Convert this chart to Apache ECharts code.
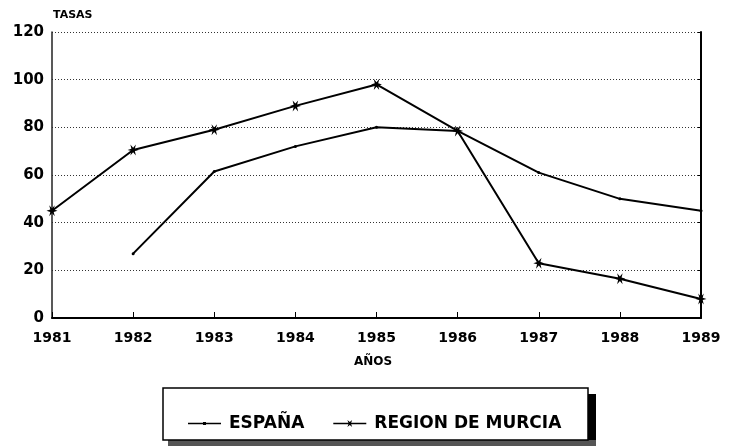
<!DOCTYPE html>
<html>
<head>
<meta charset="utf-8">
<script src="https://cdn.jsdelivr.net/npm/echarts@6/dist/echarts.min.js"></script>
<style>html,body{margin:0;padding:0;background:#fff}#c{width:738px;height:448px}</style>
</head>
<body>
<div id="c"></div>
<script>
const years = ['1981','1982','1983','1984','1985','1986','1987','1988','1989'];
const espana = [null, 27, 61.5, 72, 80, 78.5, 61, 50, 45];
const murcia = [45, 70.5, 79, 89, 98, 78.5, 23, 16.5, 8];
const yTicks = [0, 20, 40, 60, 80, 100, 120];

const FONT = 'DejaVu Sans';
const star = 'path://M10 5 L6.56 5.9 L7.5 9.33 L5 6.8 L2.5 9.33 L3.44 5.9 L0 5 L3.44 4.1 L2.5 0.67 L5 3.2 L7.5 0.67 L6.56 4.1 Z';
const iconEspana = 'path://M0 4.2 L33 4.2 L33 5.8 L0 5.8 Z M15 3.4 L18 3.4 L18 6.6 L15 6.6 Z';
const iconMurcia = 'path://M0 4.2 L33 4.2 L33 5.8 L0 5.8 Z M21 5 L17.86 5.8 L18.9 8.5 L16.5 6.6 L14.1 8.5 L15.14 5.8 L12 5 L15.14 4.2 L14.1 1.5 L16.5 3.4 L18.9 1.5 L17.86 4.2 Z';

const chart = echarts.init(document.getElementById('c'), null, {renderer: 'canvas'});
chart.setOption({
  animation: false,
  backgroundColor: '#fff',
  grid: {left: 52, right: 37, top: 32, bottom: 130, containLabel: false},
  xAxis: {
    type: 'category',
    data: years,
    boundaryGap: false,
    axisLine: {lineStyle: {color: '#000', width: 2}},
    axisTick: {show: true, inside: true, length: 6, lineStyle: {color: '#000', width: 1}},
    axisLabel: {color: '#000', fontFamily: FONT, fontWeight: 'bold', fontSize: 14, margin: 13},
    splitLine: {show: false}
  },
  yAxis: [{
    type: 'value',
    min: yTicks[0], max: yTicks[yTicks.length - 1], interval: 20,
    axisLine: {show: true, lineStyle: {color: '#222', width: 1.5}},
    axisTick: {show: false},
    axisLabel: {color: '#000', fontFamily: FONT, fontWeight: 'bold', fontSize: 15, margin: 8},
    splitLine: {show: true, lineStyle: {color: '#333', width: 1, type: [1, 2]}}
  }, {
    type: 'value',
    position: 'right',
    min: yTicks[0], max: yTicks[yTicks.length - 1], interval: 20,
    axisLine: {show: true, lineStyle: {color: '#000', width: 2}},
    axisTick: {show: true, inside: true, length: 3, lineStyle: {color: '#000'}},
    axisLabel: {show: false},
    splitLine: {show: false}
  }],
  legend: {
    left: 183, top: 410,
    itemWidth: 33, itemHeight: 10, itemGap: 29,
    symbolKeepAspect: true,
    textStyle: {color: '#000', fontFamily: FONT, fontWeight: 'bold', fontSize: 17, padding: [0, 0, 0, 3]},
    data: [{name: 'ESPAÑA', icon: iconEspana}, {name: 'REGION DE MURCIA', icon: iconMurcia}]
  },
  graphic: [
    {type: 'rect', z: -2, shape: {x: 588, y: 394, width: 8, height: 52}, style: {fill: '#000'}},
    {type: 'rect', z: -2, shape: {x: 168, y: 440, width: 428, height: 6}, style: {fill: '#555'}},
    {type: 'rect', z: -1, shape: {x: 163, y: 388, width: 425, height: 52}, style: {fill: '#fff', stroke: '#000', lineWidth: 1.5}},
    {type: 'text', left: 53, top: 10, style: {text: 'TASAS', fill: '#000', font: 'bold 11px "DejaVu Sans"'}},
    {type: 'text', left: 354, top: 356, style: {text: 'AÑOS', fill: '#000', font: 'bold 12px "DejaVu Sans"'}}
  ],
  series: [{
    name: 'ESPAÑA',
    type: 'line',
    data: espana,
    connectNulls: false,
    symbol: 'circle',
    symbolSize: 3,
    showAllSymbol: true,
    lineStyle: {color: '#000', width: 2},
    itemStyle: {color: '#000'}
  }, {
    name: 'REGION DE MURCIA',
    type: 'line',
    data: murcia,
    symbol: star,
    symbolSize: 11,
    showAllSymbol: true,
    lineStyle: {color: '#000', width: 2},
    itemStyle: {color: '#000'}
  }]
});
</script>
</body>
</html>
